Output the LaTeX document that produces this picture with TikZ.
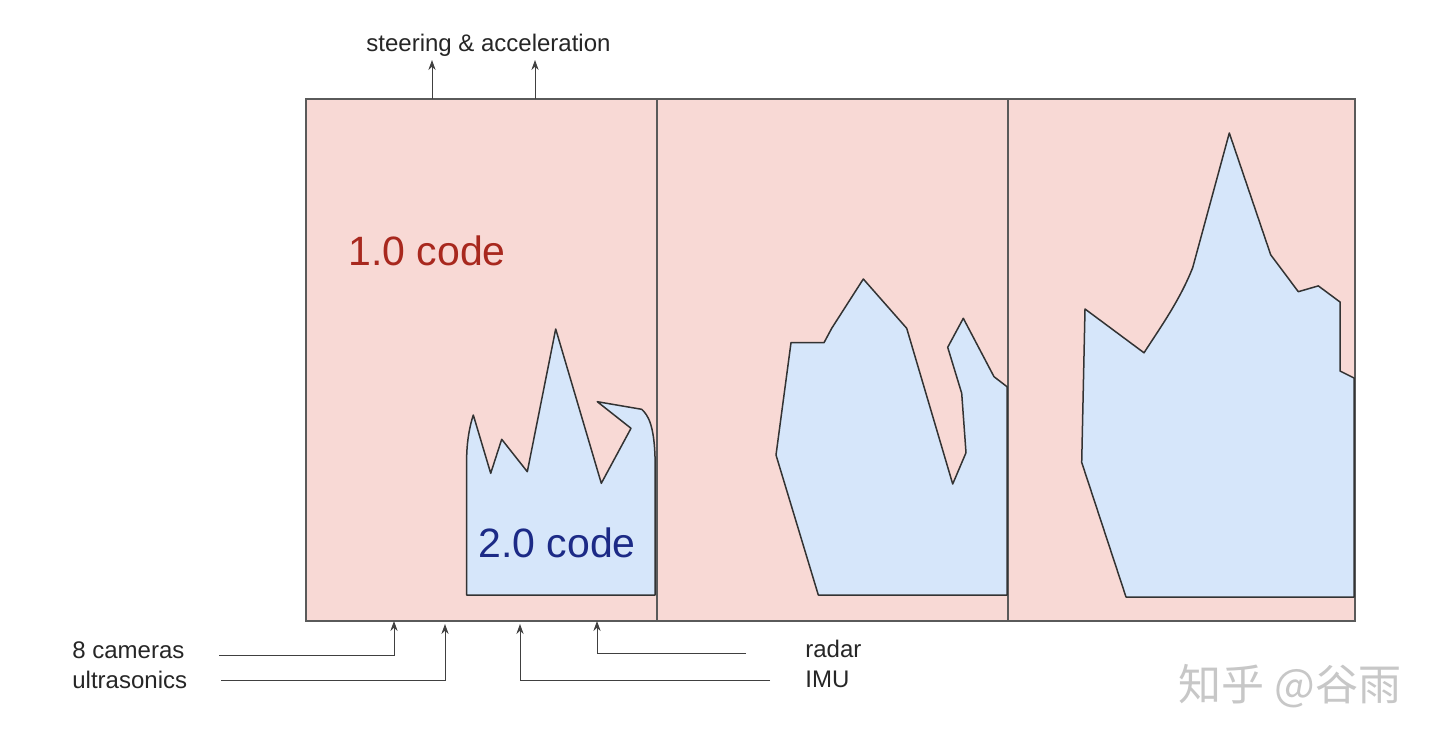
\documentclass[tikz,border=0pt]{standalone}
\usepackage{fontspec}
\setmainfont{Liberation Sans}
\newfontfamily\cjk{Noto Sans CJK SC}
\usetikzlibrary{arrows.meta}
\definecolor{pinkbg}{HTML}{F8D9D5}
\definecolor{bluefill}{HTML}{D6E6FA}
\definecolor{boxgray}{HTML}{5A5A5A}
\definecolor{codered}{HTML}{A8281E}
\definecolor{codeblue}{HTML}{1C2A86}
\begin{document}
\begin{tikzpicture}[x=0.5pt,y=-0.5pt,
  panel/.style={fill=pinkbg, draw=boxgray, line width=0.7pt},
  blob/.style={fill=bluefill, draw=black!80, line width=0.75pt, line join=round},
  lbl/.style={inner sep=0pt, anchor=west, font=\fontsize{12}{14}\selectfont, text=black!85},
  big/.style={inner sep=0pt, anchor=west, font=\fontsize{20.5}{24}\selectfont},
  sig/.style={-{Stealth[length=5pt,width=3.6pt]}, line width=0.45pt, draw=black!75}]
\useasboundingbox (0,0) rectangle (1440,743);
\fill[white] (0,0) rectangle (1440,743);

% panels
\path[panel] (306,99) rectangle (657,621);
\path[panel] (657,99) rectangle (1008,621);
\path[panel] (1008,99) rectangle (1355,621);

% blob 1
\path[blob] (466.7,595) -- (466.7,456) .. controls (467,440) and (470,425) .. (473.3,415)
  -- (490.7,473.3) -- (501.7,439.3) -- (527.3,471.7) -- (555.7,329) -- (601.3,483.3)
  -- (631,428.3) -- (597.3,401.7) -- (641.7,409.3)
  .. controls (648,415) and (654,425) .. (655,456.7) -- (655,595) -- cycle;
% blob 2
\path[blob] (818.3,595) -- (776,455) -- (791,342.7) -- (824,342.7) -- (831.7,328.3)
  -- (863.3,279) -- (906.7,328.3) -- (952.7,484) -- (966,452.7) -- (961.7,393.3)
  -- (947.7,347.3) -- (963.3,318.3) -- (994,376.7) -- (1007,386.7) -- (1007,595) -- cycle;
% blob 3
\path[blob] (1126,597) -- (1081.7,462.4) -- (1085,309) -- (1144,352.8)
  .. controls (1160,328) and (1180,300) .. (1192.7,267.6) -- (1229.3,133) -- (1270.7,254.8) -- (1298.3,291.7) -- (1318.3,285.9)
  -- (1340,302) -- (1340,371) -- (1354,378) -- (1354,597) -- cycle;

% texts
\node[big, text=codered] (one) at (348,251) {1.0 code};
\node[big, text=codeblue] (two) at (478,543) {2.0 code};
\node[lbl] (steer) at (366,45) {steering \& acceleration};
\node[lbl] (cam) at (72,650) {8 cameras};
\node[lbl] (ultra) at (72,680) {ultrasonics};
\node[lbl] (radar) at (805,649) {radar};
\node[lbl] (imu) at (805,679) {IMU};
\node[inner sep=0pt, font=\cjk\fontsize{21.5}{22}\selectfont, text=black!22] (wm) at (1290,686) {知乎 @谷雨};

% top arrows
\coordinate (o1) at (432,99);  \coordinate (o1e) at (432,60);
\coordinate (o2) at (535,99);  \coordinate (o2e) at (535,60);
\draw[sig] (o1) -- (o1e);
\draw[sig] (o2) -- (o2e);

% bottom arrows
\coordinate (s1) at (219,655); \coordinate (i1) at (394,621);
\coordinate (s2) at (221,680); \coordinate (i2) at (445,624);
\coordinate (s3) at (770,680); \coordinate (i3) at (520,624);
\coordinate (s4) at (746,653); \coordinate (i4) at (597,621);
\draw[sig] (s1) -| (i1);
\draw[sig] (s2) -| (i2);
\draw[sig] (s3) -| (i3);
\draw[sig] (s4) -| (i4);
\end{tikzpicture}
\end{document}
